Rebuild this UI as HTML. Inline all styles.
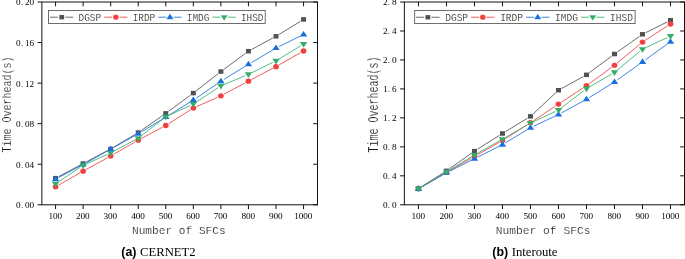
<!DOCTYPE html>
<html><head><meta charset="utf-8"><title>Time overhead vs number of SFCs</title>
<style>html,body{margin:0;padding:0;background:#fff}svg{display:block}</style></head>
<body>
<svg width="685" height="259" viewBox="0 0 685 259">
<rect width="685" height="259" fill="#fff"/>
<path d="M55.55 204.8v4.3M55.55 2v4.3M83.11 204.8v4.3M83.11 2v4.3M110.66 204.8v4.3M110.66 2v4.3M138.22 204.8v4.3M138.22 2v4.3M165.77 204.8v4.3M165.77 2v4.3M193.33 204.8v4.3M193.33 2v4.3M220.89 204.8v4.3M220.89 2v4.3M248.44 204.8v4.3M248.44 2v4.3M276 204.8v4.3M276 2v4.3M303.55 204.8v4.3M303.55 2v4.3M41.87 204.8h-4.3M317.5 204.8h-4.3M41.87 164.24h-4.3M317.5 164.24h-4.3M41.87 123.68h-4.3M317.5 123.68h-4.3M41.87 83.12h-4.3M317.5 83.12h-4.3M41.87 42.56h-4.3M317.5 42.56h-4.3M41.87 2h-4.3M317.5 2h-4.3" stroke="#111" stroke-width="1.0" fill="none"/>
<rect x="41.87" y="2" width="275.63" height="202.8" fill="none" stroke="#111" stroke-width="1.0"/>
<g font-family="'Liberation Mono',monospace" fill="#141414" stroke="#fff" stroke-width="0.2">
<g font-family="'Liberation Serif',serif" font-size="9.2" fill="#000" stroke="none">
<text x="16.1 20.95 25.1 29.6" y="208.3">0.00</text>
<text x="16.1 20.95 25.1 29.6" y="167.74">0.04</text>
<text x="16.1 20.95 25.1 29.6" y="127.18">0.08</text>
<text x="16.1 20.95 25.1 29.6" y="86.62">0.12</text>
<text x="16.1 20.95 25.1 29.6" y="46.06">0.16</text>
<text x="16.1 20.95 25.1 29.6" y="5">0.20</text>
<text x="48.5 53 57.5" y="218.8">100</text>
<text x="76.06 80.56 85.06" y="218.8">200</text>
<text x="103.61 108.11 112.61" y="218.8">300</text>
<text x="131.17 135.67 140.17" y="218.8">400</text>
<text x="158.72 163.22 167.72" y="218.8">500</text>
<text x="186.28 190.78 195.28" y="218.8">600</text>
<text x="213.84 218.34 222.84" y="218.8">700</text>
<text x="241.39 245.89 250.39" y="218.8">800</text>
<text x="268.95 273.45 277.95" y="218.8">900</text>
<text x="294.25 298.75 303.25 307.75" y="218.8">1000</text>
</g>
<text transform="translate(178.8 234.3) scale(0.9626 1)" font-size="11.6" text-anchor="middle">Number of SFCs</text>
<text transform="translate(11.3 104.5) rotate(-90) scale(0.7463 1)" font-size="13.4" text-anchor="middle">Time Overhead(s)</text>
</g>
<path d="M58.64 176.59L80.02 165.2M86.2 161.92L107.57 150.62M113.67 147.19L135.21 134.37M141.09 130.58L162.9 115.35M168.59 111.28L190.51 95.17M196.09 90.95L218.13 73.7M223.7 69.46L245.63 53.27M251.52 49.53L272.92 37.98M278.98 34.49L300.57 21.24" stroke="#515151" stroke-width="0.85" fill="none"/>
<rect x="53.05" y="175.98" width="5" height="4.5" fill="#515151"/>
<rect x="80.61" y="161.31" width="5" height="4.5" fill="#515151"/>
<rect x="108.16" y="146.73" width="5" height="4.5" fill="#515151"/>
<rect x="135.72" y="130.33" width="5" height="4.5" fill="#515151"/>
<rect x="163.27" y="111.1" width="5" height="4.5" fill="#515151"/>
<rect x="190.83" y="90.85" width="5" height="4.5" fill="#515151"/>
<rect x="218.39" y="69.29" width="5" height="4.5" fill="#515151"/>
<rect x="245.94" y="48.95" width="5" height="4.5" fill="#515151"/>
<rect x="273.5" y="34.07" width="5" height="4.5" fill="#515151"/>
<rect x="301.05" y="17.16" width="5" height="4.5" fill="#515151"/>
<path d="M58.59 185.11L80.06 172.88M86.18 169.47L107.59 157.74M113.69 154.32L135.19 141.92M141.31 138.53L162.68 127.14M168.73 123.62L190.37 109.95M196.53 106.66L217.69 97.26M223.98 94.19L245.35 82.8M251.54 79.53L272.9 68.31M279.04 64.95L300.51 52.72" stroke="#F14040" stroke-width="0.85" fill="none"/>
<ellipse cx="55.55" cy="186.84" rx="2.85" ry="2.65" fill="#F14040"/>
<ellipse cx="83.11" cy="171.15" rx="2.85" ry="2.65" fill="#F14040"/>
<ellipse cx="110.66" cy="156.06" rx="2.85" ry="2.65" fill="#F14040"/>
<ellipse cx="138.22" cy="140.17" rx="2.85" ry="2.65" fill="#F14040"/>
<ellipse cx="165.77" cy="125.49" rx="2.85" ry="2.65" fill="#F14040"/>
<ellipse cx="193.33" cy="108.08" rx="2.85" ry="2.65" fill="#F14040"/>
<ellipse cx="220.89" cy="95.84" rx="2.85" ry="2.65" fill="#F14040"/>
<ellipse cx="248.44" cy="81.16" rx="2.85" ry="2.65" fill="#F14040"/>
<ellipse cx="276" cy="66.68" rx="2.85" ry="2.65" fill="#F14040"/>
<ellipse cx="303.55" cy="50.99" rx="2.85" ry="2.65" fill="#F14040"/>
<path d="M58.64 177.51L80.01 166.2M86.16 162.86L107.61 150.89M113.72 147.47L135.16 135.5M141.21 131.98L162.78 118.91M168.75 115.25L190.35 101.93M196.22 98.11L218 83.23M223.87 79.43L245.46 66.18M251.45 62.57L272.99 49.84M279.14 46.51L300.41 36.04" stroke="#1A6FDF" stroke-width="0.85" fill="none"/>
<path d="M55.55 175.56L59.25 181.16H51.85Z" fill="#1A6FDF"/>
<path d="M83.11 160.98L86.81 166.58H79.41Z" fill="#1A6FDF"/>
<path d="M110.66 145.6L114.36 151.2H106.96Z" fill="#1A6FDF"/>
<path d="M138.22 130.21L141.92 135.81H134.52Z" fill="#1A6FDF"/>
<path d="M165.77 113.51L169.47 119.11H162.07Z" fill="#1A6FDF"/>
<path d="M193.33 96.5L197.03 102.1H189.63Z" fill="#1A6FDF"/>
<path d="M220.89 77.68L224.59 83.28H217.19Z" fill="#1A6FDF"/>
<path d="M248.44 60.77L252.14 66.37H244.74Z" fill="#1A6FDF"/>
<path d="M276 44.47L279.7 50.07H272.3Z" fill="#1A6FDF"/>
<path d="M303.55 30.91L307.25 36.51H299.85Z" fill="#1A6FDF"/>
<path d="M58.46 181.85L80.2 167.32M86.3 163.94L107.47 154.37M113.75 151.27L135.13 139.8M140.98 136L163.01 118.93M168.95 115.32L190.15 105.5M196.25 102.1L217.97 87.74M224.12 84.47L245.21 75.72M251.58 72.83L272.86 62.36M278.99 59L300.56 45.92" stroke="#37AD6B" stroke-width="0.85" fill="none"/>
<path d="M55.55 187.38L59.25 181.78H51.85Z" fill="#37AD6B"/>
<path d="M83.11 168.96L86.81 163.36H79.41Z" fill="#37AD6B"/>
<path d="M110.66 156.51L114.36 150.91H106.96Z" fill="#37AD6B"/>
<path d="M138.22 141.73L141.92 136.13H134.52Z" fill="#37AD6B"/>
<path d="M165.77 120.37L169.47 114.77H162.07Z" fill="#37AD6B"/>
<path d="M193.33 107.62L197.03 102.02H189.63Z" fill="#37AD6B"/>
<path d="M220.89 89.4L224.59 83.8H217.19Z" fill="#37AD6B"/>
<path d="M248.44 77.96L252.14 72.36H244.74Z" fill="#37AD6B"/>
<path d="M276 64.4L279.7 58.8H272.3Z" fill="#37AD6B"/>
<path d="M303.55 47.69L307.25 42.09H299.85Z" fill="#37AD6B"/>
<rect x="48.4" y="10.4" width="216.8" height="13.1" fill="#fff" stroke="#4a4a4a" stroke-width="0.8"/>
<g font-family="'Liberation Mono',monospace" fill="#141414" stroke="#fff" stroke-width="0.2">
<path d="M50.1 17.2H58M65.4 17.2H73.3" stroke="#515151" stroke-width="0.85" fill="none"/>
<rect x="59.2" y="14.95" width="5" height="4.5" fill="#515151"/>
<text transform="translate(78.5 20.85) scale(0.8260 1)" font-size="11.4" text-anchor="start">DGSP</text>
<path d="M104.25 17.2H112.15M119.55 17.2H127.45" stroke="#F14040" stroke-width="0.85" fill="none"/>
<ellipse cx="115.85" cy="17.2" rx="2.85" ry="2.65" fill="#F14040"/>
<text transform="translate(132.65 20.85) scale(0.8260 1)" font-size="11.4" text-anchor="start">IRDP</text>
<path d="M158.4 17.2H166.3M173.7 17.2H181.6" stroke="#1A6FDF" stroke-width="0.85" fill="none"/>
<path d="M170 13.62L173.7 19.22H166.3Z" fill="#1A6FDF"/>
<text transform="translate(186.8 20.85) scale(0.8260 1)" font-size="11.4" text-anchor="start">IMDG</text>
<path d="M212.55 17.2H220.45M227.85 17.2H235.75" stroke="#37AD6B" stroke-width="0.85" fill="none"/>
<path d="M224.15 20.78L227.85 15.18H220.45Z" fill="#37AD6B"/>
<text transform="translate(240.95 20.85) scale(0.8260 1)" font-size="11.4" text-anchor="start">IHSD</text>
</g>
<text transform="translate(121.3 255.9) scale(1.0 1)" fill="#000" xml:space="preserve" style="white-space:pre"><tspan font-family="'Liberation Sans',sans-serif" font-weight="bold" font-size="12.4">(a)</tspan><tspan font-family="'Liberation Serif',serif" font-size="12.7" dx="0.4"> CERNET2</tspan></text>
<path d="M418.45 204.8v4.3M418.45 2v4.3M446.46 204.8v4.3M446.46 2v4.3M474.46 204.8v4.3M474.46 2v4.3M502.47 204.8v4.3M502.47 2v4.3M530.47 204.8v4.3M530.47 2v4.3M558.48 204.8v4.3M558.48 2v4.3M586.49 204.8v4.3M586.49 2v4.3M614.49 204.8v4.3M614.49 2v4.3M642.5 204.8v4.3M642.5 2v4.3M670.5 204.8v4.3M670.5 2v4.3M404.36 204.8h-4.3M684.5 204.8h-4.3M404.36 175.83h-4.3M684.5 175.83h-4.3M404.36 146.86h-4.3M684.5 146.86h-4.3M404.36 117.89h-4.3M684.5 117.89h-4.3M404.36 88.91h-4.3M684.5 88.91h-4.3M404.36 59.94h-4.3M684.5 59.94h-4.3M404.36 30.97h-4.3M684.5 30.97h-4.3M404.36 2h-4.3M684.5 2h-4.3" stroke="#111" stroke-width="1.0" fill="none"/>
<rect x="404.36" y="2" width="280.14" height="202.8" fill="none" stroke="#111" stroke-width="1.0"/>
<g font-family="'Liberation Mono',monospace" fill="#141414" stroke="#fff" stroke-width="0.2">
<g font-family="'Liberation Serif',serif" font-size="9.2" fill="#000" stroke="none">
<text x="383 387.85 392" y="208.3">0.0</text>
<text x="383 387.85 392" y="179.33">0.4</text>
<text x="383 387.85 392" y="150.36">0.8</text>
<text x="383 387.85 392" y="121.39">1.2</text>
<text x="383 387.85 392" y="92.41">1.6</text>
<text x="383 387.85 392" y="63.44">2.0</text>
<text x="383 387.85 392" y="34.47">2.4</text>
<text x="383 387.85 392" y="5">2.8</text>
<text x="411.4 415.9 420.4" y="218.8">100</text>
<text x="439.41 443.91 448.41" y="218.8">200</text>
<text x="467.41 471.91 476.41" y="218.8">300</text>
<text x="495.42 499.92 504.42" y="218.8">400</text>
<text x="523.42 527.92 532.42" y="218.8">500</text>
<text x="551.43 555.93 560.43" y="218.8">600</text>
<text x="579.44 583.94 588.44" y="218.8">700</text>
<text x="607.44 611.94 616.44" y="218.8">800</text>
<text x="635.45 639.95 644.45" y="218.8">900</text>
<text x="661.2 665.7 670.2 674.7" y="218.8">1000</text>
</g>
<text transform="translate(543.1 234.3) scale(0.9727 1)" font-size="11.6" text-anchor="middle">Number of SFCs</text>
<text transform="translate(378.1 104.5) rotate(-90) scale(0.7042 1)" font-size="14.2" text-anchor="middle">Time Overhead(s)</text>
</g>
<path d="M421.41 186.75L443.5 172.72M449.32 168.83L471.6 153.14M477.42 149.26L499.51 135.36M505.45 131.67L527.49 118.2M533.03 113.98L555.92 92.61M561.55 88.53L583.42 76.51M589.3 72.74L611.68 56.11M617.35 52L639.64 36.31M645.63 32.73L667.37 21.85" stroke="#515151" stroke-width="0.85" fill="none"/>
<rect x="415.95" y="186.37" width="5" height="4.5" fill="#515151"/>
<rect x="443.96" y="168.6" width="5" height="4.5" fill="#515151"/>
<rect x="471.96" y="148.87" width="5" height="4.5" fill="#515151"/>
<rect x="499.97" y="131.25" width="5" height="4.5" fill="#515151"/>
<rect x="527.97" y="114.12" width="5" height="4.5" fill="#515151"/>
<rect x="555.98" y="87.97" width="5" height="4.5" fill="#515151"/>
<rect x="583.99" y="72.58" width="5" height="4.5" fill="#515151"/>
<rect x="611.99" y="51.77" width="5" height="4.5" fill="#515151"/>
<rect x="640" y="32.05" width="5" height="4.5" fill="#515151"/>
<rect x="668" y="18.03" width="5" height="4.5" fill="#515151"/>
<path d="M421.47 187L443.43 174.2M449.5 170.7L471.42 158.2M477.5 154.74L499.43 142.24M505.42 138.63L527.52 124.61M533.39 120.79L555.57 106.03M561.41 102.17L583.56 87.66M589.31 83.67L611.67 67.35M617.18 63.05L639.81 44.26M645.44 40.13L667.56 25.93" stroke="#F14040" stroke-width="0.85" fill="none"/>
<ellipse cx="418.45" cy="188.77" rx="2.85" ry="2.65" fill="#F14040"/>
<ellipse cx="446.46" cy="172.44" rx="2.85" ry="2.65" fill="#F14040"/>
<ellipse cx="474.46" cy="156.47" rx="2.85" ry="2.65" fill="#F14040"/>
<ellipse cx="502.47" cy="140.5" rx="2.85" ry="2.65" fill="#F14040"/>
<ellipse cx="530.47" cy="122.73" rx="2.85" ry="2.65" fill="#F14040"/>
<ellipse cx="558.48" cy="104.09" rx="2.85" ry="2.65" fill="#F14040"/>
<ellipse cx="586.49" cy="85.74" rx="2.85" ry="2.65" fill="#F14040"/>
<ellipse cx="614.49" cy="65.29" rx="2.85" ry="2.65" fill="#F14040"/>
<ellipse cx="642.5" cy="42.03" rx="2.85" ry="2.65" fill="#F14040"/>
<ellipse cx="670.5" cy="24.04" rx="2.85" ry="2.65" fill="#F14040"/>
<path d="M421.48 187.17L443.42 174.54M449.58 171.23L471.34 160.28M477.59 157.14L499.34 146.19M505.46 142.81L527.48 129.52M533.64 126.22L555.31 115.99M561.56 112.83L583.41 100.99M589.46 97.48L611.52 83.82M617.34 79.94L639.65 63.94M645.34 59.85L667.66 43.78" stroke="#1A6FDF" stroke-width="0.85" fill="none"/>
<path d="M418.45 185.33L422.15 190.93H414.75Z" fill="#1A6FDF"/>
<path d="M446.46 169.22L450.16 174.81H442.76Z" fill="#1A6FDF"/>
<path d="M474.46 155.13L478.16 160.73H470.76Z" fill="#1A6FDF"/>
<path d="M502.47 141.04L506.17 146.64H498.77Z" fill="#1A6FDF"/>
<path d="M530.47 124.13L534.17 129.73H526.77Z" fill="#1A6FDF"/>
<path d="M558.48 110.91L562.18 116.51H554.78Z" fill="#1A6FDF"/>
<path d="M586.49 95.74L590.19 101.34H582.79Z" fill="#1A6FDF"/>
<path d="M614.49 78.4L618.19 84H610.79Z" fill="#1A6FDF"/>
<path d="M642.5 58.31L646.2 63.91H638.8Z" fill="#1A6FDF"/>
<path d="M670.5 38.15L674.2 43.75H666.8Z" fill="#1A6FDF"/>
<path d="M421.44 186.95L443.46 173.6M449.46 169.99L471.46 156.82M477.51 153.3L499.42 140.92M505.5 137.45L527.44 124.77M533.65 121.54L555.31 111.49M561.26 107.89L583.7 90.75M589.51 86.87L611.46 74.13M617.19 70.14L639.8 51.41M645.67 47.7L667.33 37.58" stroke="#37AD6B" stroke-width="0.85" fill="none"/>
<path d="M418.45 192.35L422.15 186.75H414.75Z" fill="#37AD6B"/>
<path d="M446.46 175.37L450.16 169.77H442.76Z" fill="#37AD6B"/>
<path d="M474.46 158.61L478.16 153.01H470.76Z" fill="#37AD6B"/>
<path d="M502.47 142.79L506.17 137.19H498.77Z" fill="#37AD6B"/>
<path d="M530.47 126.6L534.17 121H526.77Z" fill="#37AD6B"/>
<path d="M558.48 113.6L562.18 108H554.78Z" fill="#37AD6B"/>
<path d="M586.49 92.21L590.19 86.61H582.79Z" fill="#37AD6B"/>
<path d="M614.49 75.96L618.19 70.36H610.79Z" fill="#37AD6B"/>
<path d="M642.5 52.76L646.2 47.16H638.8Z" fill="#37AD6B"/>
<path d="M670.5 39.69L674.2 34.09H666.8Z" fill="#37AD6B"/>
<rect x="414.7" y="10.5" width="220.4" height="13.1" fill="#fff" stroke="#4a4a4a" stroke-width="0.8"/>
<g font-family="'Liberation Mono',monospace" fill="#141414" stroke="#fff" stroke-width="0.2">
<path d="M416.1 17.25H424.15M431.55 17.25H439.6" stroke="#515151" stroke-width="0.85" fill="none"/>
<rect x="425.35" y="15" width="5" height="4.5" fill="#515151"/>
<text transform="translate(445.2 20.9) scale(0.8363 1)" font-size="11.4" text-anchor="start">DGSP</text>
<path d="M471.05 17.25H479.1M486.5 17.25H494.55" stroke="#F14040" stroke-width="0.85" fill="none"/>
<ellipse cx="482.8" cy="17.25" rx="2.85" ry="2.65" fill="#F14040"/>
<text transform="translate(500.15 20.9) scale(0.8363 1)" font-size="11.4" text-anchor="start">IRDP</text>
<path d="M526 17.25H534.05M541.45 17.25H549.5" stroke="#1A6FDF" stroke-width="0.85" fill="none"/>
<path d="M537.75 13.67L541.45 19.27H534.05Z" fill="#1A6FDF"/>
<text transform="translate(555.1 20.9) scale(0.8363 1)" font-size="11.4" text-anchor="start">IMDG</text>
<path d="M580.95 17.25H589M596.4 17.25H604.45" stroke="#37AD6B" stroke-width="0.85" fill="none"/>
<path d="M592.7 20.83L596.4 15.23H589Z" fill="#37AD6B"/>
<text transform="translate(610.05 20.9) scale(0.8363 1)" font-size="11.4" text-anchor="start">IHSD</text>
</g>
<text transform="translate(492.3 255.9) scale(1.0 1)" fill="#000" xml:space="preserve" style="white-space:pre"><tspan font-family="'Liberation Sans',sans-serif" font-weight="bold" font-size="12.4">(b)</tspan><tspan font-family="'Liberation Serif',serif" font-size="12.7" dx="0.4"> Interoute</tspan></text>
</svg>
</body></html>
